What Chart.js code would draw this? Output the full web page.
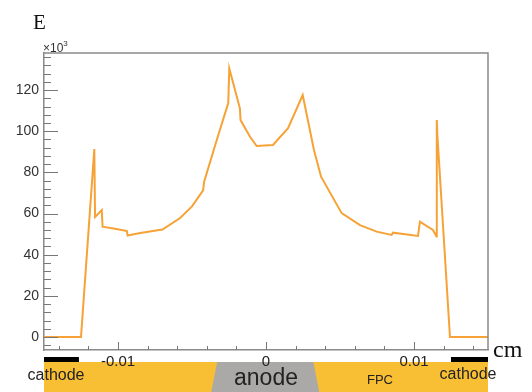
<!DOCTYPE html>
<html>
<head>
<meta charset="utf-8">
<script src="https://cdn.jsdelivr.net/npm/chart.js@4.4.1/dist/chart.umd.min.js"></script>
<style>
    body { margin: 0; background: #fff; }
    canvas { display: block; }
</style>
</head>
<body>
<canvas id="myChart" width="532" height="392"></canvas>
<script>
// position across the strip (cm) and field E (x10^3)
const xPos = [-0.0150, -0.0125, -0.0116, -0.01155, -0.0111, -0.01104, -0.0102, -0.0094, -0.00935,
    -0.0085, -0.0070, -0.0058, -0.0050, -0.00425, -0.00418, -0.0034, -0.00255, -0.00248,
    -0.00176, -0.00172, -0.00108, -0.00063, 0.00047, 0.00149, 0.00248, 0.00324, 0.00372,
    0.00511, 0.00635, 0.00748, 0.00849, 0.00858, 0.01027, 0.0104, 0.01128, 0.01152,
    0.01154, 0.01158, 0.01243, 0.0150];
const eField = [0, 0, 91.3, 58.3, 61.7, 53.6, 52.6, 51.5, 49.3,
    50.5, 52.2, 57.8, 63.5, 71.3, 75.5, 94, 113.7, 130.5,
    111, 105.4, 97.3, 92.8, 93.3, 101.5, 117.6, 90.9, 77.9,
    60.2, 54.4, 51.2, 49.6, 50.7, 49.1, 56.0, 52.0, 48.8,
    105.4, 98, 0, 0];

const yLabels = [0, 20, 40, 60, 80, 100, 120];
const xLabels = [-0.01, 0, 0.01];

// electrode layout under the plot, in cm
const cathodeLeft = [-0.015, -0.01264];
const cathodeRight = [0.0125, 0.015];
const anodeTop = [-0.0033, 0.0032];
const anodeBottom = [-0.0037, 0.0036];

const FONT = 'Helvetica, Arial, "Liberation Sans", sans-serif';
const SERIF = '"Liberation Serif", "Times New Roman", serif';

const decorations = {
    id: 'decorations',
    beforeDraw(chart) {
        // strip drawing under the axis, tick labels go over it
        const ctx = chart.ctx;
        const a = chart.chartArea;
        const xs = chart.scales.x;
        ctx.save();
        const bandTop = 362, bandBottom = 392;
        ctx.fillStyle = '#f8bf35';
        ctx.fillRect(a.left, bandTop, a.right - a.left, bandBottom - bandTop);

        ctx.fillStyle = '#aba9a7';
        ctx.beginPath();
        ctx.moveTo(xs.getPixelForValue(anodeTop[0]), bandTop);
        ctx.lineTo(xs.getPixelForValue(anodeTop[1]), bandTop);
        ctx.lineTo(xs.getPixelForValue(anodeBottom[1]), bandBottom);
        ctx.lineTo(xs.getPixelForValue(anodeBottom[0]), bandBottom);
        ctx.closePath();
        ctx.fill();

        ctx.fillStyle = '#000';
        const l0 = xs.getPixelForValue(cathodeLeft[0]), l1 = xs.getPixelForValue(cathodeLeft[1]);
        ctx.fillRect(l0, 357, l1 - l0, 5);
        const r0 = xs.getPixelForValue(cathodeRight[0]), r1 = xs.getPixelForValue(cathodeRight[1]);
        ctx.fillRect(r0, 357, r1 - r0, 5);

        ctx.textAlign = 'center';
        ctx.textBaseline = 'alphabetic';
        ctx.fillStyle = '#222';
        ctx.font = '16px ' + FONT;
        ctx.fillText('cathode', 56, 380);
        ctx.fillText('cathode', 468, 379);
        ctx.font = '23px ' + FONT;
        ctx.fillText('anode', xs.getPixelForValue(0), 385);
        ctx.font = '13px ' + FONT;
        ctx.fillText('FPC', 380, 384);
        ctx.restore();
    },
    afterDraw(chart) {
        const ctx = chart.ctx;
        const a = chart.chartArea;
        const xs = chart.scales.x;
        const ys = chart.scales.y;
        ctx.save();

        // top and right frame
        ctx.strokeStyle = '#8a8a8a';
        ctx.lineWidth = 1.5;
        ctx.beginPath();
        ctx.moveTo(a.left, a.top);
        ctx.lineTo(a.right, a.top);
        ctx.lineTo(a.right, a.bottom);
        ctx.stroke();

        // tick marks, pointing inwards
        ctx.lineWidth = 1;
        ctx.strokeStyle = '#777';
        ctx.beginPath();
        for (let v = -4; v <= 136; v += 4) {
            const py = Math.round(ys.getPixelForValue(v)) + 0.5;
            const len = v % 20 === 0 ? 14 : 7;
            ctx.moveTo(a.left, py);
            ctx.lineTo(a.left + len, py);
        }
        for (let i = -7; i <= 7; i++) {
            const px = Math.round(xs.getPixelForValue(i * 0.002)) + 0.5;
            const len = i % 5 === 0 ? 8 : 4;
            ctx.moveTo(px, a.bottom);
            ctx.lineTo(px, a.bottom - len);
        }
        ctx.stroke();

        // axis titles
        ctx.fillStyle = '#111';
        ctx.font = '21px ' + SERIF;
        ctx.textAlign = 'left';
        ctx.textBaseline = 'alphabetic';
        ctx.fillText('E', 33, 29);
        ctx.font = '24px ' + SERIF;
        ctx.fillText('cm', 493, 357);

        ctx.fillStyle = '#333';
        ctx.font = '12px ' + FONT;
        ctx.fillText('\u00d710', 43, 52);
        const w = ctx.measureText('\u00d710').width;
        ctx.font = '8px ' + FONT;
        ctx.fillText('3', 43 + w, 46);

        ctx.restore();
    }
};

const ctx = document.getElementById('myChart').getContext('2d');
const myChart = new Chart(ctx, {
    type: 'line',
    data: {
        datasets: [{
            data: xPos.map((x, i) => ({ x: x, y: eField[i] })),
            borderColor: '#f6a236',
            borderWidth: 2,
            pointRadius: 0,
            tension: 0,
            fill: false
        }]
    },
    options: {
        responsive: false,
        animation: false,
        layout: { padding: { top: 53, right: 44, left: 0, bottom: 0 } },
        plugins: { legend: { display: false }, tooltip: { enabled: false } },
        scales: {
            x: {
                type: 'linear',
                min: -0.015,
                max: 0.015,
                grid: { display: false, drawTicks: false },
                border: { display: true, color: '#8a8a8a', width: 1.5 },
                afterBuildTicks: (scale) => { scale.ticks = xLabels.map(v => ({ value: v })); },
                afterFit: (scale) => { scale.height = 42; },
                ticks: {
                    autoSkip: false,
                    maxRotation: 0,
                    padding: 3,
                    color: '#222',
                    font: { family: FONT, size: 15 },
                    callback: (v) => v === 0 ? '0' : String(v)
                }
            },
            y: {
                min: -6.3,
                max: 138,
                grid: { display: false, drawTicks: false },
                border: { display: true, color: '#8a8a8a', width: 1.5 },
                afterBuildTicks: (scale) => { scale.ticks = yLabels.map(v => ({ value: v })); },
                afterFit: (scale) => { scale.width = 44; },
                ticks: {
                    padding: 5,
                    color: '#333',
                    font: { family: FONT, size: 14 }
                }
            }
        }
    },
    plugins: [decorations]
});
</script>
</body>
</html>
